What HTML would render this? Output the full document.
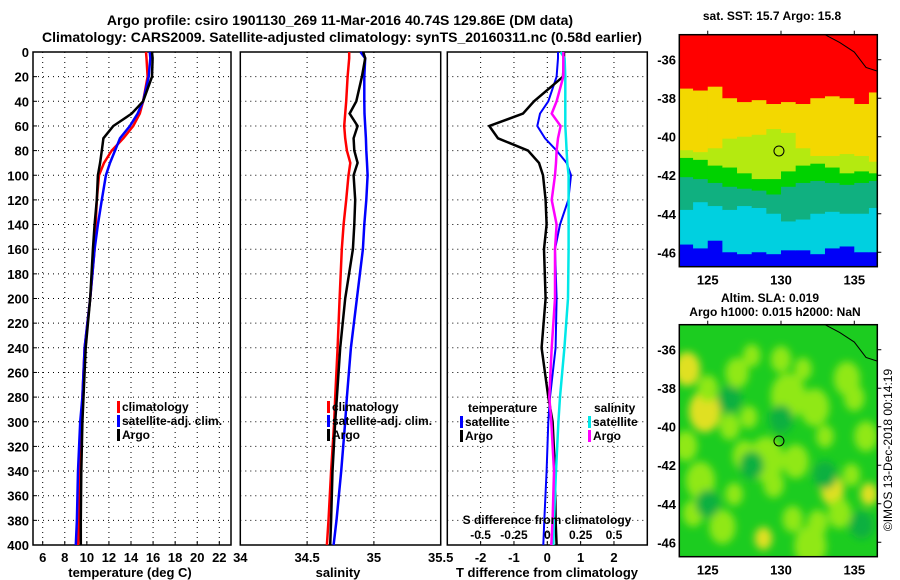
<!DOCTYPE html>
<html><head><meta charset="utf-8">
<style>
html,body{margin:0;padding:0;background:#fff;}
svg{display:block;font-family:"Liberation Sans",sans-serif;}
.b{font-weight:bold;}
</style></head>
<body>
<svg id="s" width="900" height="580" viewBox="0 0 900 580" xmlns="http://www.w3.org/2000/svg">
<text x="340" y="25" text-anchor="middle" class="b" font-size="14">Argo profile: csiro 1901130_269 11-Mar-2016 40.74S 129.86E (DM data)</text>
<text x="342" y="42" text-anchor="middle" class="b" font-size="14">Climatology: CARS2009. Satellite-adjusted climatology: synTS_20160311.nc (0.58d earlier)</text>
<g id="g"></g>
<text x="772" y="20" text-anchor="middle" class="b" font-size="12">sat. SST: 15.7 Argo: 15.8</text>
<text x="770" y="302" text-anchor="middle" class="b" font-size="12">Altim. SLA: 0.019</text>
<text x="775" y="316" text-anchor="middle" class="b" font-size="12">Argo h1000: 0.015 h2000: NaN</text>
<text transform="translate(892,450) rotate(-90)" text-anchor="middle" font-size="12">©IMOS 13-Dec-2018 00:14:19</text>
</svg>
<script>
// ---- data ----
const depths = [0,5,20,40,50,60,70,80,90,100,120,140,160,200,240,280,300,340,380,400];
const tempClim = [15.36,15.4,15.5,15.1,14.8,14.2,13.3,12.25,11.55,11.1,10.9,10.8,10.7,10.3,9.8,9.6,9.5,9.4,9.3,9.2];
const tempSat  = [15.7,15.75,15.6,15.1,14.6,13.9,13.0,12.55,12.1,11.73,11.35,11.0,10.7,10.3,9.8,9.6,9.4,9.2,9.1,9.0];
const tempArgo = [15.9,15.96,15.9,15.1,14.06,12.4,11.5,11.35,11.2,11.0,10.9,10.7,10.55,10.3,9.9,9.7,9.6,9.5,9.45,9.45];
const salClim = [34.815,34.815,34.803,34.793,34.785,34.778,34.785,34.798,34.823,34.81,34.793,34.773,34.76,34.743,34.728,34.71,34.703,34.68,34.66,34.648];
const salSat  = [34.9,34.935,34.928,34.928,34.93,34.935,34.94,34.943,34.948,34.953,34.943,34.928,34.918,34.873,34.828,34.798,34.785,34.755,34.72,34.698];
const salArgo = [34.92,34.935,34.91,34.868,34.818,34.878,34.848,34.853,34.878,34.848,34.86,34.853,34.843,34.785,34.748,34.723,34.71,34.69,34.68,34.673];
const dTsat  = [0.32,0.32,0.28,0.03,-0.22,-0.3,-0.07,0.28,0.58,0.71,0.63,0.38,0.23,0.28,0.25,0.08,0.03,-0.02,-0.09,-0.12];
const dTargo = [0.5,0.5,0.47,-0.4,-0.73,-1.74,-1.48,-0.58,-0.25,-0.13,-0.05,-0.02,-0.1,-0.05,-0.17,0.03,0.16,0.23,0.25,0.28];
const dSsat  = [0.1,0.13,0.135,0.135,0.135,0.135,0.14,0.145,0.15,0.16,0.16,0.16,0.16,0.155,0.128,0.095,0.083,0.065,0.05,0.045];
const dSargo = [0.12,0.12,0.12,0.07,0.033,0.1,0.08,0.07,0.065,0.058,0.033,0.07,0.058,0.058,0.033,0.015,0.03,0.05,0.04,0.03];
const depthTicks = [0,20,40,60,80,100,120,140,160,180,200,220,240,260,280,300,320,340,360,380,400];
const tempTicks = [6,8,10,12,14,16,18,20,22];
const salTicks = [34,34.5,35,35.5];
const dTTicks = [-2,-1,0,1,2];
const dSTicks = [-0.5,-0.25,0,0.25,0.5];
const dSTickLabels = ["-0.5","-0.25","0","0.25","0.5"];
// SST map: latitude of band boundaries per longitude column
const sstLons = [123,124,125,126,127,128,129,130,131,132,133,134,135,136];
const bRedYel = [-37.5,-37.6,-37.4,-38.0,-38.2,-38.1,-38.3,-38.2,-38.3,-38.0,-37.9,-38.0,-38.3,-37.7];
const bYelLg  = [-40.7,-40.8,-40.6,-40.1,-40.0,-39.9,-39.6,-39.8,-40.6,-41.0,-41.0,-40.9,-41.0,-41.3];
const bLgGr   = [-41.1,-41.2,-41.5,-41.6,-41.9,-42.2,-42.2,-41.8,-41.5,-41.4,-41.6,-41.9,-41.8,-41.9];
const bGrTeal = [-42.1,-42.2,-42.4,-42.6,-42.7,-42.8,-43.0,-42.6,-42.4,-42.3,-42.4,-42.5,-42.4,-42.3];
const bTealCy = [-43.8,-43.4,-43.6,-43.8,-43.6,-43.7,-44.0,-44.4,-44.3,-44.0,-43.9,-44.0,-44.0,-43.7];
const bCyBlue = [-45.6,-45.8,-45.4,-46.0,-46.1,-46.0,-46.1,-45.9,-45.9,-46.1,-45.8,-45.7,-46.0,-46.0];
const sstColors = ["#ff0000","#f3d800","#b4ea10","#00d200","#10b080","#00d0e0","#0000f8"];
// SLA map blobs
const blobLon = [123.6,124.8,127.0,128.8,130.5,132.3,134.5,135.8,124.5,127.5,131.0,133.5,129.0,126.0,134.0,132.0,125.0,123.5,126.5,128.0,130.0,131.5,133.0,135.0,124.0,126.8,129.5,132.5,134.8,136.0,127.8,130.8];
const blobLat = [-37.0,-39.2,-37.2,-45.8,-38.4,-39.0,-37.5,-40.5,-42.8,-41.5,-41.8,-43.3,-41.7,-45.2,-44.5,-46.2,-38.0,-41.0,-40.0,-36.3,-36.5,-37.0,-40.5,-38.5,-44.5,-43.5,-43.0,-45.0,-42.5,-43.5,-39.5,-44.8];
const blobType= [2,2,1,2,1,1,1,1,1,1,1,2,1,1,1,1,1,1,1,1,1,1,1,1,1,1,1,1,1,2,1,1];
const blobR   = [0.9,1.1,0.8,0.6,1.2,1.0,0.9,0.8,1.0,0.8,0.9,0.8,1.2,0.9,0.8,1.1,0.7,0.8,0.7,0.6,0.7,0.6,0.6,0.7,0.7,0.6,0.7,0.7,0.6,0.6,0.6,0.7];
const darkLon = [130.0,125.0,135.5,126.5,133.0,128.0];
const darkLat = [-39.6,-44.0,-45.1,-38.6,-42.5,-42.0];

// ---- helpers ----
const NS="http://www.w3.org/2000/svg";
const G=document.getElementById('g');
function el(t,a,p){const e=document.createElementNS(NS,t);for(const k in a)e.setAttribute(k,a[k]);(p||G).appendChild(e);return e;}
const yTop=52,yBot=545;
const yD=d=>yTop+(d/400)*(yBot-yTop);
function lin(d0,d1,r0,r1){return v=>r0+(v-d0)/(d1-d0)*(r1-r0);}
const xT=lin(6,22,42.7,219.3);
const xS=lin(34,35.5,240.3,440.7);
const xdT=lin(-3,3,447.3,647.3);
const xdS=v=>xdT(v*4);

function panel(x0,x1,name,xticks,xf,labels,grids){
  const g=el('g',{});
  
  
  grids.forEach(v=>{const l=el('line',{x1:xf(v),x2:xf(v),y1:yTop,y2:yBot,stroke:'#000','stroke-width':1,'stroke-dasharray':'1,4'},g);
    });
  depthTicks.forEach(d=>{if(d===0||d===400)return;const l=el('line',{x1:x0,x2:x1,y1:yD(d),y2:yD(d),stroke:'#000','stroke-width':1,'stroke-dasharray':'1,4'},g);
    });
  const r=el('rect',{x:x0,y:yTop,width:x1-x0,height:yBot-yTop,fill:'none',stroke:'#000','stroke-width':1.5},g);
  
  xticks.forEach((v,i)=>{const t=el('text',{x:xf(v),y:562,'text-anchor':'middle','font-size':13,'font-weight':'bold'},g);t.textContent=labels[i];
    
    el('line',{x1:xf(v),x2:xf(v),y1:yBot,y2:yBot-4,stroke:'#000'},g);});
  return g;
}
function line(vals,xf,col,w,name){
  const pts=depths.map((d,i)=>xf(vals[i]).toFixed(1)+','+yD(d).toFixed(1)).join(' ');
  const p=el('polyline',{points:pts,fill:'none',stroke:col,'stroke-width':w,'stroke-linejoin':'miter'});
  
}
function txt(x,y,s,size,name,anchor,bold){const t=el('text',{x:x,y:y,'font-size':size,'text-anchor':anchor||'start','font-weight':bold===false?'normal':'bold'});t.textContent=s;
  return t;}
function legendEntry(x,y,col,label){
  const r=el('rect',{x:x,y:y-10,width:3,height:12,fill:col});
  
  txt(x+5,y,label,12,'legend-entry');
}

// panel 1
panel(33,231,'temperature-panel',tempTicks,xT,tempTicks.map(String),tempTicks);
depthTicks.forEach(d=>{txt(29,yD(d)+5,String(d),13,'y-tick-label','end');el('line',{x1:33,x2:37,y1:yD(d),y2:yD(d),stroke:'#000'});});
line(tempClim,xT,'#ff0000',2.5,'temp-climatology-line');
line(tempSat,xT,'#0000ff',2.5,'temp-satellite-line');
line(tempArgo,xT,'#000',2.5,'temp-argo-line');
txt(130,577,'temperature (deg C)',13,'x-axis-title','middle');
legendEntry(117,411,'#ff0000','climatology');
legendEntry(117,425,'#0000ff','satellite-adj. clim.');
legendEntry(117,439,'#000','Argo');

// panel 2
panel(240.3,440.7,'salinity-panel',salTicks,xS,['34','34.5','35','35.5'],[34.5,35]);
line(salClim,xS,'#ff0000',2.5,'sal-climatology-line');
line(salSat,xS,'#0000ff',2.5,'sal-satellite-line');
line(salArgo,xS,'#000',2.5,'sal-argo-line');
txt(338,577,'salinity',13,'x-axis-title','middle');
legendEntry(327,411,'#ff0000','climatology');
legendEntry(327,425,'#0000ff','satellite-adj. clim.');
legendEntry(327,439,'#000','Argo');

// panel 3
panel(447.3,647.3,'difference-panel',dTTicks,xdT,dTTicks.map(String),dTTicks);
line(dTsat,xdT,'#0000ff',2,'dT-satellite-line');
line(dTargo,xdT,'#000',2.5,'dT-argo-line');
line(dSsat,xdS,'#00e8e8',2.5,'dS-satellite-line');
line(dSargo,xdS,'#ff00ff',2.5,'dS-argo-line');
txt(468,412,'temperature',12,'legend-title');
legendEntry(460,426,'#0000ff','satellite');
legendEntry(460,440,'#000','Argo');
txt(594,412,'salinity',12,'legend-title');
legendEntry(588,426,'#00e8e8','satellite');
legendEntry(588,440,'#ff00ff','Argo');
txt(547,524,'S difference from climatology',12,'s-axis-title','middle');
dSTicks.forEach((v,i)=>txt(xdS(v),539,dSTickLabels[i],12,'s-tick-label','middle'));
txt(547,577,'T difference from climatology',13,'x-axis-title','middle');

// maps
const mx0=679.3,mx1=877.3;
const mlon=lin(123.06,136.57,mx0,mx1);
function mapFrame(top,bot,name){
  const mlat=lin(-34.7,-46.75,top,bot);
  const g=el('g',{});
  
  const cp=el('clipPath',{id:name+'-clip'},g);
  el('rect',{x:mx0,y:top,width:mx1-mx0,height:bot-top},cp);
  const inner=el('g',{'clip-path':'url(#'+name+'-clip)'},g);
  return {g,inner,mlat,top,bot};
}
function mapDecor(m){
  const {g,mlat,top,bot}=m;
  const c=el('path',{d:`M${mlon(133)} ${top} L${mlon(134)} ${mlat(-35.1)} L${mlon(135)} ${mlat(-35.6)} L${mlon(135.8)} ${mlat(-36.4)} L${mlon(136.6)} ${mlat(-36.6)}`,fill:'none',stroke:'#000','stroke-width':1},g);
  
  const r=el('rect',{x:mx0,y:top,width:mx1-mx0,height:bot-top,fill:'none',stroke:'#000','stroke-width':1.5},g);
  
  [-36,-38,-40,-42,-44,-46].forEach(l=>{el('line',{x1:mx1,x2:mx1+4,y1:mlat(l),y2:mlat(l),stroke:'#000'},g);
    txt(676,mlat(l)+5,String(l),13,'map-lat-label','end');});
  [125,130,135].forEach(l=>{el('line',{x1:mlon(l),x2:mlon(l),y1:top,y2:top-4,stroke:'#000'},g);
    txt(mlon(l),bot+18,String(l),13,'map-lon-label','middle');});
  const ci=el('circle',{cx:mlon(129.86),cy:mlat(-40.74),r:5,fill:'none',stroke:'#000','stroke-width':1},g);
  
}

const m1=mapFrame(34.7,266.7,'sst-map');
const bands=[bRedYel,bYelLg,bLgGr,bGrTeal,bTealCy,bCyBlue];
sstLons.forEach((lon,i)=>{
  let prev=-34.7;
  for(let b=0;b<=bands.length;b++){
    const next=b<bands.length?bands[b][i]:-46.8;
    const cell=el('rect',{x:mlon(lon),y:m1.mlat(prev),width:mlon(lon+1)-mlon(lon)+0.5,height:m1.mlat(next)-m1.mlat(prev)+0.5,fill:sstColors[b]},m1.inner);
    
    
    prev=next;
  }
});
mapDecor(m1);

const m2=mapFrame(324.7,556.7,'sla-map');
const defs=el('defs',{});
const f=el('filter',{id:'blur',x:'-50%',y:'-50%',width:'200%',height:'200%'},defs);
el('feGaussianBlur',{stdDeviation:4},f);
el('rect',{x:mx0,y:324.7,width:mx1-mx0,height:232,fill:'#1ccc20'},m2.inner);
const bg=el('g',{filter:'url(#blur)'},m2.inner);
blobLon.forEach((lon,i)=>{
  const e=el('ellipse',{cx:mlon(lon),cy:m2.mlat(blobLat[i]),rx:blobR[i]*14.6,ry:blobR[i]*19,fill:blobType[i]===2?'#e0e020':'#90e818'},bg);
  
  
});
darkLon.forEach((lon,i)=>{
  const e=el('ellipse',{cx:mlon(lon),cy:m2.mlat(darkLat[i]),rx:12,ry:14,fill:'#10b040'},bg);
  
  
});
mapDecor(m2);
</script>
</body></html>
